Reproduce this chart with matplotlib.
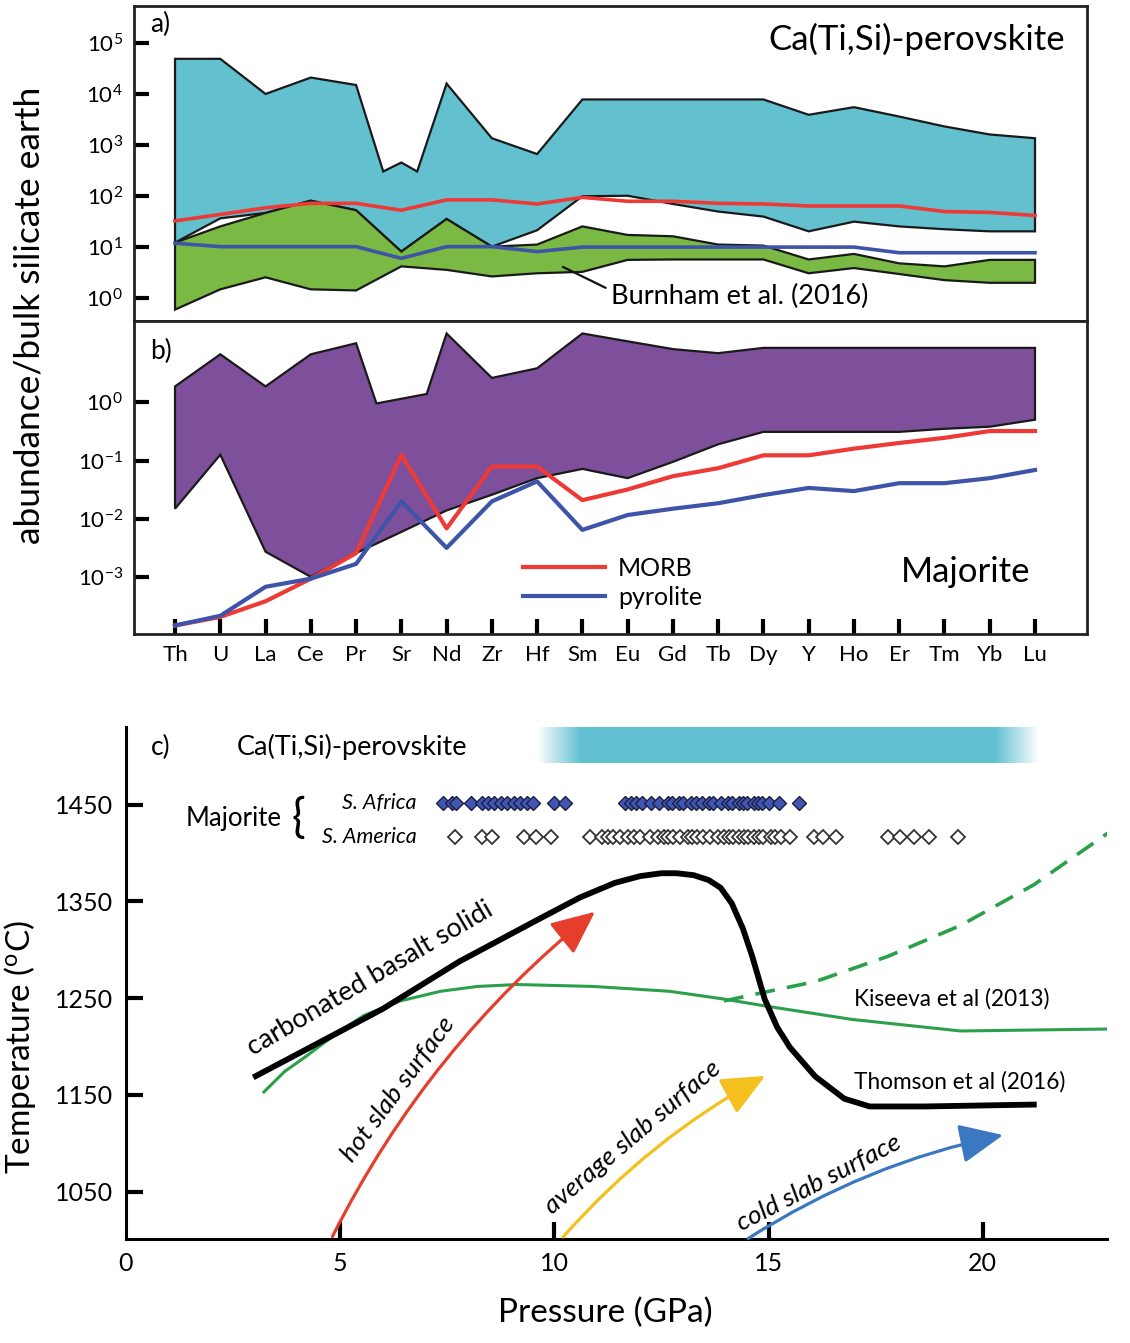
import numpy as np
import matplotlib
matplotlib.use('Agg')
import matplotlib.pyplot as plt
from matplotlib.patches import FancyArrowPatch

plt.rcParams['font.family'] = ['Lato', 'DejaVu Sans']
plt.rcParams['mathtext.default'] = 'regular'

# ---------------- data ----------------
elements = ['Th', 'U', 'La', 'Ce', 'Pr', 'Sr', 'Nd', 'Zr', 'Hf', 'Sm',
            'Eu', 'Gd', 'Tb', 'Dy', 'Y', 'Ho', 'Er', 'Tm', 'Yb', 'Lu']

# a) Ca(Ti,Si)-perovskite
perov_top_x = [0, 1, 2, 3, 4, 4.6, 5, 5.35, 6, 7, 8, 9, 10, 11, 12, 13, 14, 15, 16, 17, 18, 19]
perov_top = [49000, 49000, 10000, 21000, 15000, 300, 450, 300, 16000, 1350, 660,
             7800, 7800, 7800, 7800, 7800, 3900, 5500, 3600, 2300, 1600, 1350]
perov_bot = [12, 36, 46, 80, 52, 8, 35, 10, 21, 98, 100, 69, 49, 39, 20, 31, 25, 22, 20, 20]
burnham_top = [12, 25, 46, 80, 52, 8, 35, 10, 11, 25, 17, 16, 11, 10.5, 5.6, 7.2, 4.7, 4.1, 5.5, 5.5]
burnham_bot = [0.58, 1.45, 2.5, 1.45, 1.38, 4.1, 3.5, 2.6, 3.0, 3.2, 5.5, 5.6, 5.6, 5.6,
               3.0, 3.8, 2.9, 2.2, 1.95, 1.95]
morb_a = [32, 43, 58, 71, 71, 52, 83, 83, 69, 93, 78, 78, 71, 69, 63, 63, 63, 49, 47, 41]
pyrolite_a = [11.7, 10, 10, 10, 10, 5.9, 10, 10, 8, 9.8, 9.8, 9.8, 9.8, 9.8, 9.8, 9.8,
              7.6, 7.6, 7.6, 7.6]

# b) Majorite
maj_top_x = [0, 1, 2, 3, 4, 4.45, 5.56, 6, 7, 8, 9, 10, 11, 12, 13, 14, 15, 16, 17, 18, 19]
maj_top = [1.86, 6.6, 1.86, 6.6, 10.2, 0.95, 1.38, 15, 2.6, 3.8, 15, 11, 8.1, 6.9,
           8.5, 8.5, 8.5, 8.5, 8.5, 8.5, 8.5]
maj_bot = [0.015, 0.126, 0.00275, 0.00102, 0.0026, 0.006, 0.014, 0.026, 0.05, 0.072,
           0.05, 0.095, 0.19, 0.31, 0.31, 0.31, 0.31, 0.35, 0.38, 0.5]
morb_b = [0.00015, 0.00021, 0.00039, 0.00095, 0.0026, 0.126, 0.0069, 0.079, 0.079, 0.021,
          0.032, 0.054, 0.074, 0.123, 0.123, 0.16, 0.2, 0.245, 0.32, 0.32]
pyrolite_b = [0.00015, 0.00022, 0.00069, 0.00095, 0.0017, 0.02, 0.0032, 0.02, 0.044, 0.0065,
              0.0117, 0.015, 0.0186, 0.0257, 0.034, 0.030, 0.041, 0.041, 0.05, 0.069]

# c) pressure (GPa) / temperature (C)
solidus_p = [2.97, 4.21, 6.0, 7.79, 9.57, 10.6, 11.41, 12.0, 12.5, 12.85, 13.25, 13.6,
             13.88, 14.14, 14.4, 14.62, 14.91, 15.2, 15.5, 16.09, 16.77, 17.36, 18.64, 21.26]
solidus_t = [1168, 1197, 1239, 1288, 1330, 1354, 1369, 1376, 1379, 1379, 1377, 1372,
             1364, 1348, 1322, 1293, 1249, 1220, 1199, 1169, 1146, 1138, 1138, 1140]
kiseeva_p = [3.22, 3.7, 4.21, 4.9, 5.55, 6.4, 7.34, 8.2, 9.13, 10.92, 12.69, 13.96, 14.9,
             16.94, 19.48, 22.87]
kiseeva_t = [1153, 1174, 1190, 1213, 1232, 1247, 1257, 1262, 1264, 1262, 1257, 1249, 1242,
             1228, 1216, 1218]
kiseeva_dash_p = [13.96, 14.9, 16.09, 17.78, 19.48, 21.19, 22.97]
kiseeva_dash_t = [1247, 1256, 1267, 1293, 1325, 1367, 1422]

slab_paths = {
    'hot slab surface': ((4.79, 1001), (11.0, 1341)),
    'average slab surface': ((10.16, 1001), (14.98, 1171)),
    'cold slab surface': ((14.47, 1000), (20.54, 1109)),
}

africa_p = [7.4, 7.6, 7.7, 8.05, 8.3, 8.45, 8.6, 8.75, 8.9, 9.05, 9.2, 9.35, 9.5, 10.0, 10.25,
            11.65, 11.8, 11.9, 12.05, 12.25, 12.45, 12.65, 12.75, 12.9, 13.0, 13.2, 13.3,
            13.45, 13.6, 13.7, 13.9, 14.05, 14.15, 14.3, 14.4, 14.5, 14.65, 14.75, 14.85,
            15.0, 15.25, 15.7]
america_p = [7.69, 8.32, 8.55, 9.28, 9.56, 9.91, 10.84, 11.12, 11.26, 11.38, 11.54, 11.71,
             11.85, 12.01, 12.24, 12.41, 12.55, 12.66, 12.78, 12.94, 13.11, 13.22, 13.34,
             13.48, 13.64, 13.81, 13.95, 14.07, 14.18, 14.30, 14.42, 14.53, 14.65, 14.77,
             14.88, 15.05, 15.16, 15.28, 15.51, 16.05, 16.26, 16.57, 17.78, 18.08, 18.39,
             18.74, 19.42]
africa_t = 1452
america_t = 1416
perov_range = (9.6, 21.3)

# ---------------- figure ----------------
fig = plt.figure(figsize=(11.3, 13.43), dpi=100)
ax_a = fig.add_axes([0.1186, 0.7610, 0.8434, 0.2346])
ax_b = fig.add_axes([0.1186, 0.5279, 0.8434, 0.2331])
ax_c = fig.add_axes([0.1115, 0.0774, 0.8681, 0.3812])

cyan = '#63C0CF'
green = '#7AB943'
purple = '#7E4F9A'
red = '#EE3A36'
blue = '#3E54A8'
edge = '#1a1a1a'

idx = np.arange(len(elements))


def envelope(ax, top_x, top, bot, color):
    xs = list(top_x) + list(idx[::-1])
    ys = list(top) + list(bot[::-1])
    ax.fill(xs, ys, facecolor=color, edgecolor=edge, lw=1.6, zorder=2)


for ax in (ax_a, ax_b):
    ax.set_yscale('log')
    ax.set_xlim(-0.906, 20.15)
    for s in ax.spines.values():
        s.set_linewidth(2.0)
        s.set_color('#222222')
    ax.tick_params(axis='y', which='major', direction='in', length=11, width=3,
                   labelsize=16, pad=8)
    ax.tick_params(axis='y', which='minor', left=False)

# panel a
envelope(ax_a, perov_top_x, perov_top, perov_bot, cyan)
envelope(ax_a, idx, burnham_top, burnham_bot, green)
ax_a.plot(idx, morb_a, color=red, lw=2.6, zorder=3)
ax_a.plot(idx, pyrolite_a, color=blue, lw=2.6, zorder=3)
ax_a.set_ylim(10 ** -0.46, 10 ** 5.73)
ax_a.set_yticks([10.0 ** k for k in range(0, 6)])
ax_a.set_yticklabels(['$10^{%d}$' % k for k in range(0, 6)])
ax_a.set_xticks([])
ax_a.text(0.977, 0.895, 'Ca(Ti,Si)-perovskite', transform=ax_a.transAxes,
          ha='right', va='center', fontsize=25)
ax_a.text(0.017, 0.94, 'a)', transform=ax_a.transAxes, ha='left', va='center', fontsize=19)
ax_a.annotate('Burnham et al. (2016)', xy=(8.57, 4.0), xytext=(9.63, 1.04),
              ha='left', va='center', fontsize=19.5,
              arrowprops=dict(arrowstyle='-', color='#111111', lw=1.6,
                              relpos=(0, 0.75), shrinkA=2, shrinkB=0))

# panel b
envelope(ax_b, maj_top_x, maj_top, maj_bot, purple)
ax_b.plot(idx, morb_b, color=red, lw=3, zorder=3, label='MORB')
ax_b.plot(idx, pyrolite_b, color=blue, lw=3, zorder=3, label='pyrolite')
ax_b.set_ylim(10 ** -3.97, 10 ** 1.39)
ax_b.set_yticks([10.0 ** k for k in range(-3, 1)])
ax_b.set_yticklabels(['$10^{%d}$' % k for k in range(-3, 1)])
ax_b.set_xticks(idx)
ax_b.set_xticklabels(elements)
ax_b.tick_params(axis='x', direction='in', length=11, width=3, labelsize=16, pad=8)
ax_b.text(0.017, 0.904, 'b)', transform=ax_b.transAxes, ha='left', va='center', fontsize=19)
ax_b.text(0.805, 0.198, 'Majorite', transform=ax_b.transAxes, ha='left', va='center',
          fontsize=25)
ax_b.legend(loc='center left', bbox_to_anchor=(0.408, 0.163), frameon=False, fontsize=18,
            handlelength=3.3, handletextpad=0.5, labelspacing=0.25, borderpad=0,
            borderaxespad=0)

fig.text(30 / 1130, 1 - 315 / 1343, 'abundance/bulk silicate earth', rotation=90,
         ha='center', va='center', fontsize=25.5)

# panel c
for side in ('top', 'right'):
    ax_c.spines[side].set_visible(False)
for side in ('left', 'bottom'):
    ax_c.spines[side].set_linewidth(2.2)

fade = 1.0
gx = np.linspace(perov_range[0], perov_range[1], 600)
alpha = np.clip(np.minimum(gx - perov_range[0], perov_range[1] - gx) / fade, 0, 1)
rgba = np.zeros((1, gx.size, 4))
rgba[..., :3] = matplotlib.colors.to_rgb('#62C1D3')
rgba[0, :, 3] = alpha
ax_c.imshow(rgba, extent=[perov_range[0], perov_range[1], 1493, 1530], aspect='auto',
            interpolation='bilinear', zorder=1)

ax_c.plot(kiseeva_p, kiseeva_t, color='#2BA04A', lw=2.2, zorder=3)
ax_c.plot(kiseeva_dash_p, kiseeva_dash_t, color='#2BA04A', lw=2.6, ls=(0, (5.5, 3.4)), zorder=3)
ax_c.plot(solidus_p, solidus_t, color='black', lw=4.2, zorder=4, solid_capstyle='butt',
          solid_joinstyle='round')

arrow_colors = {'hot slab surface': '#E53E2D', 'average slab surface': '#F4C01E',
                'cold slab surface': '#3B78C2'}
arrow_rad = {'hot slab surface': -0.11, 'average slab surface': -0.09, 'cold slab surface': -0.095}
for name, (start, end) in slab_paths.items():
    arr = FancyArrowPatch(start, end, connectionstyle='arc3,rad=%.3f' % arrow_rad[name],
                          arrowstyle='-|>,head_length=1.0,head_width=0.45',
                          mutation_scale=27, color=arrow_colors[name], lw=2.3,
                          zorder=5, clip_on=False)
    ax_c.add_patch(arr)

ax_c.plot(africa_p, [africa_t] * len(africa_p), ls='none', marker='D', ms=7.4,
          mfc='#3F56B5', mec='#1E1E3C', mew=1.0, zorder=4)
ax_c.plot(america_p, [america_t] * len(america_p), ls='none', marker='D', ms=7.4,
          mfc='white', mec='#333333', mew=1.3, zorder=4)

ax_c.text(0.58, 1509, 'c)', ha='left', va='center', fontsize=19)
ax_c.text(2.59, 1509, 'Ca(Ti,Si)-perovskite', ha='left', va='center', fontsize=19.5)
ax_c.text(1.40, 1436, 'Majorite', ha='left', va='center', fontsize=18.5)
ax_c.text(4.02, 1436, '{', ha='center', va='center', fontsize=33)
ax_c.text(6.78, 1452, 'S. Africa', ha='right', va='center', fontsize=15.5, style='italic')
ax_c.text(6.78, 1416, 'S. America', ha='right', va='center', fontsize=15.5, style='italic')
ax_c.text(5.70, 1270, 'carbonated basalt solidi', ha='center', va='center', fontsize=19.5,
          rotation=30.4, rotation_mode='anchor')
ax_c.text(6.36, 1156, 'hot slab surface', ha='center', va='center', fontsize=19,
          style='italic', rotation=53.5, rotation_mode='anchor')
ax_c.text(11.82, 1106, 'average slab surface', ha='center', va='center', fontsize=19,
          style='italic', rotation=40.3, rotation_mode='anchor')
ax_c.text(16.17, 1059, 'cold slab surface', ha='center', va='center', fontsize=19,
          style='italic', rotation=27.5, rotation_mode='anchor')
ax_c.text(17.0, 1249, 'Kiseeva et al (2013)', ha='left', va='center', fontsize=16.3)
ax_c.text(17.0, 1163, 'Thomson et al (2016)', ha='left', va='center', fontsize=16.3)

ax_c.set_xlim(0, 22.9)
ax_c.set_ylim(1001, 1530)
ax_c.set_xticks([0, 5, 10, 15, 20])
ax_c.set_yticks([1050, 1150, 1250, 1350, 1450])
ax_c.tick_params(direction='in', length=12, width=3, labelsize=18, pad=9)
ax_c.xaxis.get_major_ticks()[0].tick1line.set_visible(False)
ax_c.set_xlabel('Pressure (GPa)', fontsize=24)
ax_c.set_ylabel('Temperature ($^{o}$C)', fontsize=24)
ax_c.xaxis.set_label_coords(0.489, -0.115)
ax_c.yaxis.set_label_coords(-0.090, 0.375)

fig.savefig('out.png', dpi=100)
